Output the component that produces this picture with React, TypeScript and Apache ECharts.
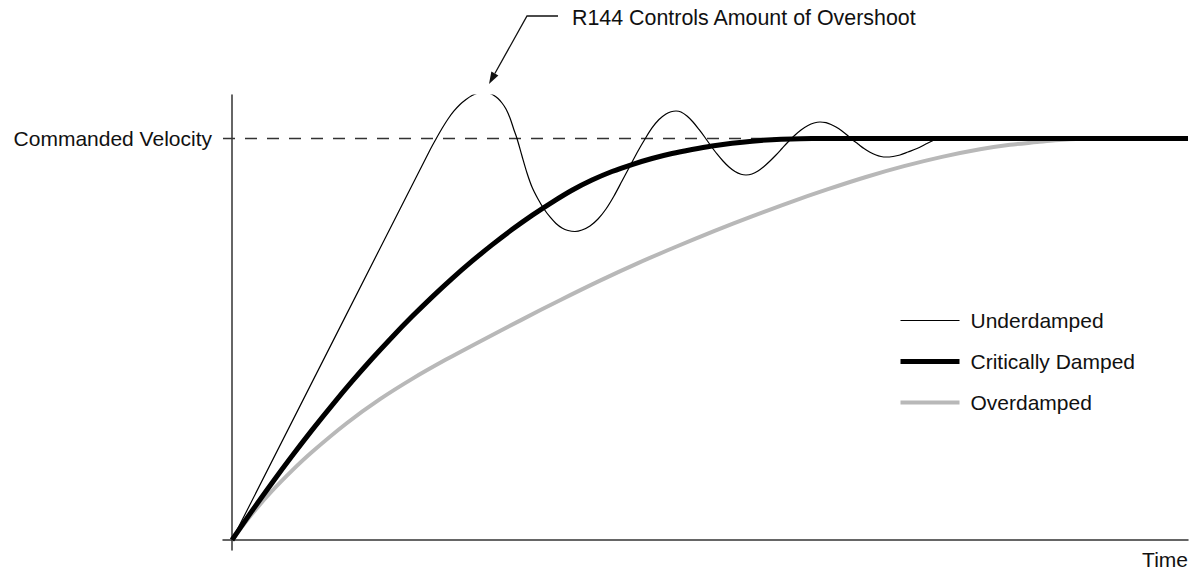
import React, { useEffect, useRef } from "react";
import * as echarts from "echarts";

const FONT = '"Liberation Sans", Arial, sans-serif';
const FONT_SIZE = 21;

// Legend / series names
const seriesNames = ["Underdamped", "Critically Damped", "Overdamped"];

// Axis texts
const yAxisLabel = "Commanded Velocity";
const xAxisLabel = "Time";
const annotationText = "R144 Controls Amount of Overshoot";

// Commanded velocity level (percent) and axis ranges (time in arbitrary units)
const commandedVelocity = 100;
const timeMin = -0.9;
const timeMax = 95.6;
const velocityMin = -2.49;
const velocityMax = 110.83;

// [time, velocity %]
const underdamped: [number, number][] = [
  [0, 0], [19.8, 97.14], [20.4, 99.88], [21.0, 102.49], [21.6, 104.86], [22.2, 106.85],
  [22.8, 108.47], [23.4, 109.71], [24.0, 110.71], [24.6, 111.33], [25.0, 111.51],
  [25.4, 111.46], [25.8, 111.21], [26.2, 110.71], [26.6, 109.96], [27.0, 108.84],
  [27.4, 107.35], [27.8, 105.11], [28.2, 102.12], [28.5, 100.0], [29.0, 95.64],
  [29.5, 91.41], [30.0, 87.92], [30.6, 84.93], [31.2, 82.44], [31.8, 80.45],
  [32.4, 78.83], [33.0, 77.71], [33.6, 77.09], [34.3, 76.84], [35.0, 77.21],
  [35.8, 78.21], [36.6, 79.95], [37.4, 82.44], [38.2, 85.68], [39.0, 89.41],
  [39.8, 93.15], [40.6, 96.89], [41.3, 99.88], [42.0, 102.62], [42.7, 104.73],
  [43.4, 106.1], [43.9, 106.67], [44.4, 106.85], [44.9, 106.6], [45.5, 105.6],
  [46.1, 104.11], [46.7, 102.24], [47.3, 100.25], [47.9, 98.13], [48.5, 96.14],
  [49.1, 94.4], [49.7, 92.9], [50.3, 91.78], [50.9, 91.08], [51.4, 90.91],
  [52.0, 91.16], [52.6, 91.9], [53.2, 93.03], [53.8, 94.4], [54.4, 95.89],
  [55.0, 97.51], [55.6, 99.13], [56.2, 100.62], [56.9, 102.12], [57.6, 103.24],
  [58.2, 103.86], [58.8, 104.11], [59.4, 103.93], [59.9, 103.49], [60.4, 102.86],
  [61.0, 101.87], [61.5, 100.87], [62.0, 99.75], [62.6, 98.63], [63.2, 97.51],
  [63.8, 96.59], [64.4, 95.89], [64.9, 95.52], [65.4, 95.39], [66.1, 95.52],
  [66.8, 95.89], [67.6, 96.64], [68.5, 97.51], [69.3, 98.5], [70.0, 99.38],
  [70.4, 100], [95.6, 100],
];

const criticallyDamped: [number, number][] = [
  [0, 0], [2.0, 7.25], [4.0, 14.22], [6.0, 20.92], [8.0, 27.37], [10.0, 33.55],
  [12.0, 39.48], [14.0, 45.13], [16.0, 50.51], [18.0, 55.64], [20.0, 60.5],
  [22.0, 65.11], [24.0, 69.44], [26.0, 73.5], [28.0, 77.31], [30.0, 80.85],
  [32.0, 84.11], [34.0, 87.12], [36.0, 89.66], [38.0, 91.78], [40.0, 93.52],
  [42.0, 95.02], [44.0, 96.26], [46.0, 97.26], [48.0, 98.13], [50.0, 98.8],
  [52.0, 99.33], [54.0, 99.7], [56.0, 99.9], [58.0, 99.98], [59.8, 100], [95.6, 100],
];

const overdamped: [number, number][] = [
  [0, 0], [2.0, 6.48], [4.0, 12.2], [6.0, 17.29], [8.0, 21.92], [11.5, 29.14],
  [14.8, 35.07], [18.1, 40.25], [21.4, 44.93], [24.8, 49.46], [28.8, 54.64],
  [32.8, 59.73], [36.8, 64.61], [40.6, 68.97], [44.4, 73.03], [48.2, 76.91],
  [52.0, 80.6], [55.8, 84.11], [59.6, 87.37], [63.4, 90.41], [67.2, 93.1],
  [71.0, 95.42], [74.8, 97.31], [77.8, 98.43], [80.5, 99.1], [82.3, 99.55],
  [83.8, 99.83], [85.3, 99.95], [86.8, 100], [95.6, 100],
];

const commandedLine: [number, number][] = [
  [timeMin, commandedVelocity],
  [timeMax, commandedVelocity],
];

export default function App() {
  const ref = useRef<HTMLDivElement>(null);

  useEffect(() => {
    if (!ref.current) return;
    const chart = echarts.init(ref.current, null, { renderer: "svg" });

    // annotation leader + arrow
    const lineStart: [number, number] = [558, 16];
    const corner: [number, number] = [527, 16];
    const tip: [number, number] = [489, 84];
    const dx = tip[0] - corner[0];
    const dy = tip[1] - corner[1];
    const len = Math.sqrt(dx * dx + dy * dy);
    const ux = dx / len;
    const uy = dy / len;
    const headLen = 12;
    const headHalf = 4;
    const base: [number, number] = [tip[0] - headLen * ux, tip[1] - headLen * uy];
    const b1: [number, number] = [base[0] - headHalf * uy, base[1] + headHalf * ux];
    const b2: [number, number] = [base[0] + headHalf * uy, base[1] - headHalf * ux];

    const textColor = "#111";
    const axisColor = "#333";

    chart.setOption({
      animation: false,
      backgroundColor: "#ffffff",
      grid: {
        left: 223,
        right: 8,
        top: 95,
        bottom: 23,
        containLabel: false,
        outerBoundsMode: "none",
      },
      xAxis: {
        type: "value",
        min: timeMin,
        max: timeMax,
        axisLine: { show: true, onZero: true, lineStyle: { color: axisColor, width: 1.5 } },
        axisTick: { show: false },
        splitLine: { show: false },
        axisLabel: {
          customValues: [timeMax],
          formatter: () => xAxisLabel,
          align: "right",
          margin: -1,
          fontFamily: FONT,
          fontSize: FONT_SIZE,
          color: textColor,
        },
      },
      yAxis: {
        type: "value",
        min: velocityMin,
        max: velocityMax,
        axisLine: { show: true, onZero: true, lineStyle: { color: axisColor, width: 1.5 } },
        axisTick: { show: false },
        splitLine: { show: false },
        axisLabel: {
          customValues: [commandedVelocity],
          formatter: () => yAxisLabel,
          margin: 11,
          fontFamily: FONT,
          fontSize: FONT_SIZE,
          color: textColor,
        },
      },
      legend: {
        data: [
          { name: seriesNames[0], lineStyle: { width: 1.2 } },
          { name: seriesNames[1], lineStyle: { width: 5 } },
          { name: seriesNames[2], lineStyle: { width: 4 } },
        ],
        orient: "vertical",
        left: 898,
        top: 310,
        padding: 0,
        itemWidth: 59,
        itemHeight: 14,
        itemGap: 20,
        selectedMode: false,
        lineStyle: { width: "inherit" },
        itemStyle: { opacity: 0, color: "rgba(0,0,0,0)", borderWidth: 0 },
        textStyle: { fontFamily: FONT, fontSize: FONT_SIZE, color: textColor, padding: [0, 0, 0, 6] },
      },
      series: [
        {
          type: "line",
          name: "commanded",
          data: commandedLine,
          symbol: "none",
          silent: true,
          z: 1,
          lineStyle: { color: axisColor, width: 1.3, type: [12, 10] },
        },
        {
          type: "line",
          name: seriesNames[2],
          data: overdamped,
          smooth: 0.3,
          symbol: "none",
          silent: true,
          z: 2,
          lineStyle: { color: "#b8b8b8", width: 4 },
          itemStyle: { color: "#b8b8b8" },
        },
        {
          type: "line",
          name: seriesNames[1],
          data: criticallyDamped,
          smooth: 0.3,
          symbol: "none",
          silent: true,
          z: 3,
          lineStyle: { color: "#000", width: 5 },
          itemStyle: { color: "#000" },
        },
        {
          type: "line",
          name: seriesNames[0],
          data: underdamped,
          smooth: 0.3,
          symbol: "none",
          silent: true,
          z: 4,
          lineStyle: { color: "#000", width: 1.2 },
          itemStyle: { color: "#000" },
        },
      ],
      graphic: [
        {
          type: "polyline",
          shape: { points: [lineStart, corner, base] },
          style: { stroke: textColor, lineWidth: 1.3, fill: null },
        },
        {
          type: "polygon",
          shape: { points: [tip, b1, b2] },
          style: { fill: textColor },
        },
        {
          type: "text",
          x: 572,
          y: 18,
          style: {
            text: annotationText,
            fontFamily: FONT,
            fontSize: 21.4,
            fill: textColor,
            verticalAlign: "middle",
          },
        },
      ],
    });

    return () => {
      chart.dispose();
    };
  }, []);

  return (
    <div
      ref={ref}
      style={{ position: "absolute", left: 0, top: 0, width: 1196, height: 573, background: "#fff" }}
    />
  );
}
